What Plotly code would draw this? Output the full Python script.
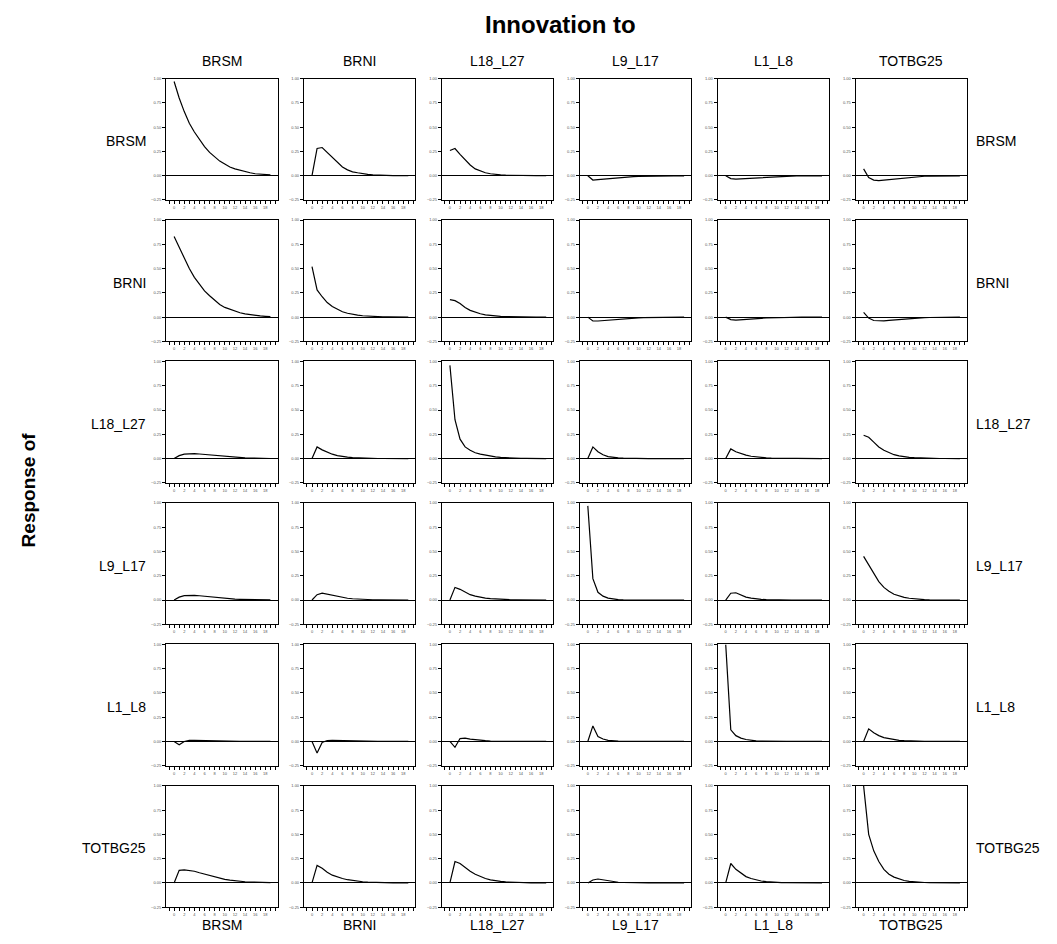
import plotly.graph_objects as go

# Impulse responses: one list per responding variable, one series per innovation
variables = ["BRSM", "BRNI", "L18_L27", "L9_L17", "L1_L8", "TOTBG25"]
horizon = list(range(20))

resp_BRSM = [
    [0.97, 0.80, 0.66, 0.54, 0.45, 0.37, 0.30, 0.24, 0.19, 0.15, 0.12, 0.09, 0.07, 0.055, 0.04, 0.03, 0.02, 0.015, 0.01, 0.008],
    [0.0, 0.28, 0.29, 0.24, 0.18, 0.13, 0.09, 0.06, 0.04, 0.03, 0.02, 0.013, 0.008, 0.005, 0.003, 0.002, 0.001, 0.001, 0.0, 0.0],
    [0.26, 0.28, 0.22, 0.16, 0.11, 0.07, 0.05, 0.03, 0.02, 0.012, 0.008, 0.005, 0.003, 0.002, 0.001, 0.001, 0.0, 0.0, 0.0, 0.0],
    [0.0, -0.045, -0.04, -0.035, -0.03, -0.025, -0.02, -0.015, -0.012, -0.01, -0.008, -0.006, -0.005, -0.004, -0.003, -0.002, -0.002, -0.001, -0.001, -0.001],
    [0.0, -0.03, -0.035, -0.032, -0.028, -0.024, -0.02, -0.016, -0.012, -0.01, -0.008, -0.006, -0.005, -0.004, -0.003, -0.002, -0.002, -0.001, -0.001, -0.001],
    [0.07, -0.02, -0.045, -0.05, -0.045, -0.04, -0.033, -0.027, -0.02, -0.015, -0.011, -0.008, -0.006, -0.004, -0.003, -0.002, -0.002, -0.001, -0.001, -0.001],
]
resp_BRNI = [
    [0.83, 0.72, 0.60, 0.50, 0.41, 0.34, 0.27, 0.22, 0.17, 0.13, 0.10, 0.08, 0.06, 0.045, 0.033, 0.024, 0.017, 0.012, 0.008, 0.005],
    [0.52, 0.28, 0.21, 0.15, 0.11, 0.08, 0.055, 0.04, 0.028, 0.02, 0.014, 0.01, 0.007, 0.005, 0.003, 0.002, 0.001, 0.001, 0.0, 0.0],
    [0.18, 0.17, 0.14, 0.10, 0.07, 0.05, 0.035, 0.024, 0.016, 0.011, 0.007, 0.005, 0.003, 0.002, 0.001, 0.001, 0.0, 0.0, 0.0, 0.0],
    [0.0, -0.04, -0.04, -0.035, -0.03, -0.025, -0.02, -0.016, -0.012, -0.009, -0.007, -0.005, -0.004, -0.003, -0.002, -0.002, -0.001, -0.001, -0.001, 0.0],
    [0.0, -0.025, -0.03, -0.028, -0.024, -0.02, -0.016, -0.012, -0.009, -0.007, -0.005, -0.004, -0.003, -0.002, -0.002, -0.001, -0.001, -0.001, 0.0, 0.0],
    [0.05, -0.01, -0.035, -0.04, -0.038, -0.034, -0.029, -0.024, -0.019, -0.015, -0.011, -0.008, -0.006, -0.004, -0.003, -0.002, -0.002, -0.001, -0.001, 0.0],
]
resp_L18_L27 = [
    [0.0, 0.03, 0.045, 0.05, 0.05, 0.047, 0.042, 0.036, 0.03, 0.025, 0.02, 0.016, 0.012, 0.009, 0.007, 0.005, 0.004, 0.003, 0.002, 0.001],
    [0.0, 0.12, 0.09, 0.065, 0.045, 0.03, 0.02, 0.014, 0.01, 0.007, 0.005, 0.003, 0.002, 0.001, 0.001, 0.0, 0.0, 0.0, 0.0, 0.0],
    [0.96, 0.40, 0.20, 0.12, 0.085, 0.06, 0.045, 0.034, 0.025, 0.018, 0.012, 0.008, 0.006, 0.004, 0.003, 0.002, 0.001, 0.001, 0.0, 0.0],
    [0.0, 0.12, 0.07, 0.04, 0.02, 0.012, 0.007, 0.004, 0.002, 0.001, 0.0, 0.0, 0.0, 0.0, 0.0, 0.0, 0.0, 0.0, 0.0, 0.0],
    [0.0, 0.10, 0.07, 0.05, 0.035, 0.024, 0.016, 0.01, 0.007, 0.004, 0.003, 0.002, 0.001, 0.0, 0.0, 0.0, 0.0, 0.0, 0.0, 0.0],
    [0.24, 0.22, 0.17, 0.12, 0.085, 0.06, 0.04, 0.028, 0.019, 0.013, 0.009, 0.006, 0.004, 0.003, 0.002, 0.001, 0.001, 0.0, 0.0, 0.0],
]
resp_L9_L17 = [
    [0.0, 0.03, 0.045, 0.05, 0.048, 0.044, 0.038, 0.032, 0.026, 0.02, 0.016, 0.012, 0.009, 0.007, 0.005, 0.004, 0.003, 0.002, 0.001, 0.001],
    [0.0, 0.055, 0.07, 0.06, 0.045, 0.035, 0.025, 0.018, 0.013, 0.009, 0.006, 0.004, 0.003, 0.002, 0.001, 0.001, 0.0, 0.0, 0.0, 0.0],
    [0.0, 0.13, 0.11, 0.08, 0.055, 0.04, 0.028, 0.02, 0.014, 0.01, 0.007, 0.005, 0.003, 0.002, 0.001, 0.001, 0.0, 0.0, 0.0, 0.0],
    [0.97, 0.22, 0.08, 0.04, 0.02, 0.01, 0.005, 0.003, 0.002, 0.001, 0.0, 0.0, 0.0, 0.0, 0.0, 0.0, 0.0, 0.0, 0.0, 0.0],
    [0.0, 0.07, 0.075, 0.05, 0.03, 0.02, 0.012, 0.007, 0.004, 0.002, 0.001, 0.0, 0.0, 0.0, 0.0, 0.0, 0.0, 0.0, 0.0, 0.0],
    [0.45, 0.36, 0.27, 0.19, 0.13, 0.09, 0.06, 0.04, 0.027, 0.018, 0.012, 0.008, 0.005, 0.003, 0.002, 0.001, 0.001, 0.0, 0.0, 0.0],
]
resp_L1_L8 = [
    [0.0, -0.035, 0.0, 0.012, 0.012, 0.01, 0.007, 0.005, 0.003, 0.002, 0.001, 0.001, 0.0, 0.0, 0.0, 0.0, 0.0, 0.0, 0.0, 0.0],
    [0.0, -0.12, -0.01, 0.01, 0.012, 0.01, 0.007, 0.005, 0.003, 0.002, 0.001, 0.001, 0.0, 0.0, 0.0, 0.0, 0.0, 0.0, 0.0, 0.0],
    [0.0, -0.06, 0.03, 0.035, 0.025, 0.018, 0.012, 0.008, 0.005, 0.003, 0.002, 0.001, 0.001, 0.0, 0.0, 0.0, 0.0, 0.0, 0.0, 0.0],
    [0.0, 0.16, 0.05, 0.025, 0.012, 0.006, 0.003, 0.002, 0.001, 0.0, 0.0, 0.0, 0.0, 0.0, 0.0, 0.0, 0.0, 0.0, 0.0, 0.0],
    [1.0, 0.12, 0.06, 0.035, 0.02, 0.012, 0.007, 0.004, 0.002, 0.001, 0.0, 0.0, 0.0, 0.0, 0.0, 0.0, 0.0, 0.0, 0.0, 0.0],
    [0.0, 0.13, 0.09, 0.06, 0.04, 0.028, 0.018, 0.012, 0.008, 0.005, 0.003, 0.002, 0.001, 0.001, 0.0, 0.0, 0.0, 0.0, 0.0, 0.0],
]
resp_TOTBG25 = [
    [0.0, 0.13, 0.135, 0.13, 0.12, 0.105, 0.09, 0.075, 0.06, 0.048, 0.037, 0.028, 0.021, 0.016, 0.012, 0.009, 0.007, 0.005, 0.004, 0.003],
    [0.0, 0.18, 0.15, 0.11, 0.08, 0.06, 0.045, 0.033, 0.024, 0.017, 0.012, 0.009, 0.006, 0.004, 0.003, 0.002, 0.001, 0.001, 0.0, 0.0],
    [0.0, 0.22, 0.20, 0.16, 0.12, 0.09, 0.065, 0.045, 0.032, 0.022, 0.015, 0.01, 0.007, 0.005, 0.003, 0.002, 0.001, 0.001, 0.0, 0.0],
    [0.0, 0.03, 0.04, 0.03, 0.02, 0.012, 0.007, 0.004, 0.002, 0.001, 0.0, 0.0, 0.0, 0.0, 0.0, 0.0, 0.0, 0.0, 0.0, 0.0],
    [0.0, 0.20, 0.14, 0.10, 0.065, 0.045, 0.03, 0.02, 0.013, 0.008, 0.005, 0.003, 0.002, 0.001, 0.0, 0.0, 0.0, 0.0, 0.0, 0.0],
    [1.0, 0.50, 0.33, 0.22, 0.14, 0.09, 0.06, 0.04, 0.025, 0.016, 0.01, 0.006, 0.004, 0.003, 0.002, 0.001, 0.001, 0.0, 0.0, 0.0],
]
responses = [resp_BRSM, resp_BRNI, resp_L18_L27, resp_L9_L17, resp_L1_L8, resp_TOTBG25]

y_ticks = [-0.25, 0.0, 0.25, 0.5, 0.75, 1.0]
x_ticks = list(range(0, 19, 2))

# Page geometry (pixels)
W, H = 1057, 944
col_left0, col_step, panel_w = 166, 137.9, 111.5
row_top0, row_step, panel_h = 76, 142.2, 122

FONT = "Liberation Sans, Arial, sans-serif"
TICK_FONT = dict(size=4, color="#555", family=FONT)

fig = go.Figure()
layout = {}
for i in range(6):
    for j in range(6):
        k = i * 6 + j + 1
        sfx = "" if k == 1 else str(k)
        x0 = col_left0 + j * col_step
        y0 = row_top0 + i * row_step
        fig.add_trace(go.Scatter(
            x=horizon, y=responses[i][j], mode="lines",
            line=dict(color="black", width=1.2),
            xaxis="x" + sfx, yaxis="y" + sfx, showlegend=False,
            hoverinfo="skip",
        ))
        layout["xaxis" + sfx] = dict(
            domain=[x0 / W, (x0 + panel_w) / W], anchor="y" + sfx,
            range=[-1.6, 20.4], tickvals=x_ticks, ticktext=[str(v) for v in x_ticks],
            ticks="outside", ticklen=3, tickwidth=1, tickcolor="black",
            minor=dict(dtick=1, tick0=0, ticks="outside", ticklen=3, tickcolor="black"),
            showline=True, linecolor="black", linewidth=1, mirror=True,
            showgrid=False, zeroline=False, tickfont=TICK_FONT,
        )
        layout["yaxis" + sfx] = dict(
            domain=[1 - (y0 + panel_h) / H, 1 - y0 / H], anchor="x" + sfx,
            range=[-0.25, 1.0], tickvals=y_ticks, tickformat=".2f",
            ticks="outside", ticklen=3, tickwidth=1, tickcolor="black",
            showline=True, linecolor="black", linewidth=1, mirror=True,
            showgrid=False, zeroline=True, zerolinecolor="black", zerolinewidth=1,
            tickfont=TICK_FONT,
        )


def label(text, xpx, ypx, size, xanchor="center", angle=0):
    return dict(text=text, x=xpx / W, y=1 - ypx / H, xref="paper", yref="paper",
                xanchor=xanchor, yanchor="middle", showarrow=False, textangle=angle,
                font=dict(size=size, family=FONT, color="black"))


annotations = [
    label("<b>Innovation to</b>", 560, 22, 24),
    label("<b>Response of</b>", 28, 490, 19, angle=-90),
]
for j, name in enumerate(variables):
    cx = col_left0 + j * col_step + panel_w / 2
    annotations.append(label(name, cx, 58, 14))
    annotations.append(label(name, cx, 927, 14))
for i, name in enumerate(variables):
    cy = row_top0 + i * row_step + panel_h / 2 + 2
    annotations.append(label(name, 148, cy, 14, xanchor="right"))
    annotations.append(label(name, 974, cy, 14, xanchor="left"))

fig.update_layout(
    width=W, height=H, margin=dict(l=0, r=0, t=0, b=0),
    paper_bgcolor="white", plot_bgcolor="white",
    annotations=annotations, **layout,
)
fig.write_html("out.html")
